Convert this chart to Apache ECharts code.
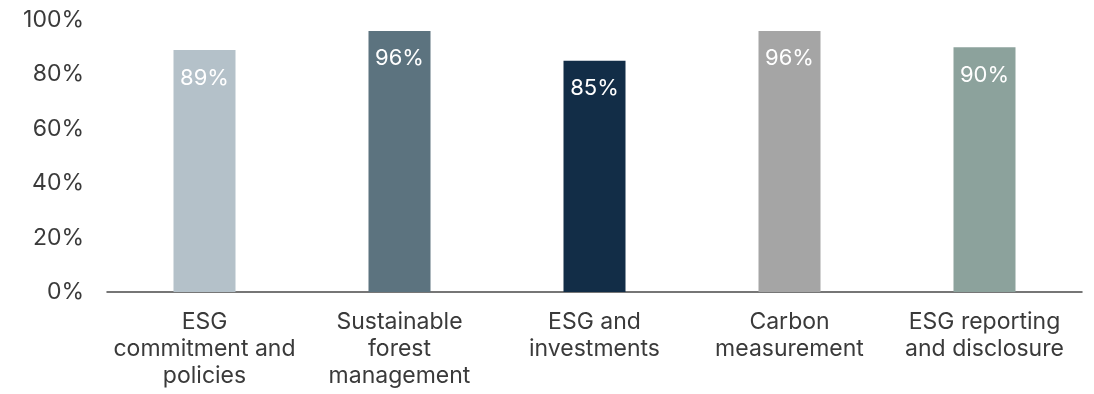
<!DOCTYPE html>
<html>
<head>
<meta charset="utf-8">
<script src="https://cdn.jsdelivr.net/npm/echarts@6/dist/echarts.min.js"></script>
<style>
  html, body { margin: 0; padding: 0; background: #ffffff; }
  #chart { width: 1094px; height: 394px; }
</style>
</head>
<body>
<div id="chart"></div>
<script>
// Survey topics and share of respondents (%)
const categories = [
  'ESG\ncommitment and\npolicies',
  'Sustainable\nforest\nmanagement',
  'ESG and\ninvestments',
  'Carbon\nmeasurement',
  'ESG reporting\nand disclosure'
];
const values = [89, 96, 85, 96, 90];
const barColors = ['#b4c1c9', '#5c737f', '#122d47', '#a5a5a5', '#8ca29c'];
const yTicks = [0, 20, 40, 60, 80, 100];

const FONT = 'Inter, Roboto, "Liberation Sans", sans-serif';

const chart = echarts.init(document.getElementById('chart'), null, { renderer: 'canvas' });
chart.setOption({
  animation: false,
  grid: { left: 107, right: 12, top: 20, bottom: 102 },
  xAxis: {
    type: 'category',
    data: categories,
    axisLine: { show: true, lineStyle: { color: '#4a4a4a', width: 1.5 } },
    axisTick: { show: false },
    axisLabel: {
      interval: 0,
      color: '#3a3a3a',
      fontFamily: FONT,
      fontSize: 23,
      lineHeight: 27,
      margin: 17
    }
  },
  yAxis: {
    type: 'value',
    min: yTicks[0],
    max: yTicks[yTicks.length - 1],
    interval: yTicks[1] - yTicks[0],
    axisLine: { show: false },
    axisTick: { show: false },
    splitLine: { show: false },
    axisLabel: {
      color: '#3a3a3a',
      fontFamily: FONT,
      fontSize: 23,
      margin: 23,
      formatter: v => v + '%'
    }
  },
  series: [{
    type: 'bar',
    barWidth: 62,
    data: values.map((v, i) => ({ value: v, itemStyle: { color: barColors[i] } })),
    label: {
      show: true,
      position: 'insideTop',
      distance: 17,
      color: '#ffffff',
      fontFamily: FONT,
      fontSize: 22,
      formatter: p => p.value + '%'
    }
  }]
});
</script>
</body>
</html>
